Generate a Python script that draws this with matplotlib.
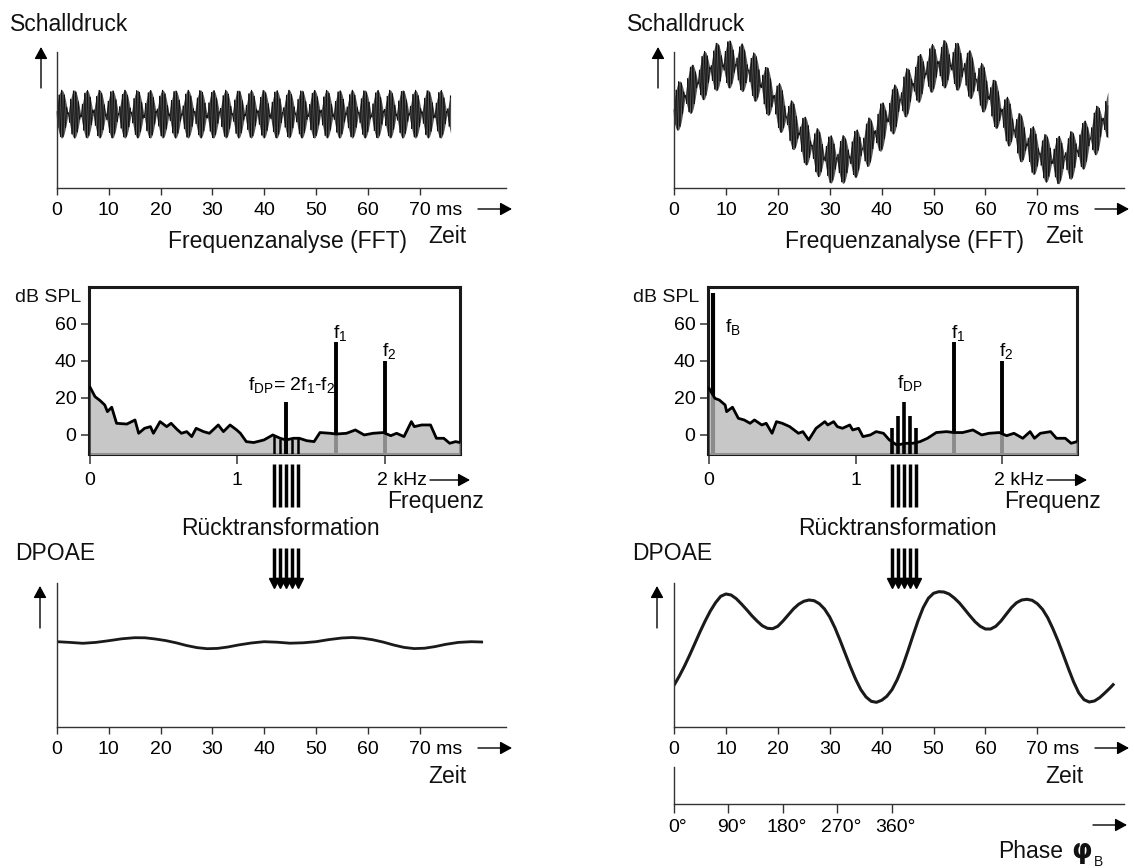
"""DPOAE schematic: primaries in time, FFT spectrum, back-transformed DP.

Left column without, right column with a low-frequency bias tone f_B.
All panels are laid out in pixel coordinates of the 1134x868 target.
"""

import numpy as np
import matplotlib

matplotlib.use("Agg")
import matplotlib.pyplot as plt
import matplotlib.transforms as mtransforms

plt.rcParams["font.family"] = ["Liberation Sans", "DejaVu Sans"]
plt.rcParams["mathtext.fontset"] = "custom"
plt.rcParams["mathtext.rm"] = "Liberation Sans"
plt.rcParams["mathtext.it"] = "Liberation Sans:italic"
plt.rcParams["mathtext.bf"] = "Liberation Sans:bold"

W, H = 1134, 868

# ---- values ----------------------------------------------------------------
TIME_TICKS_MS = [0, 10, 20, 30, 40, 50, 60, 70]
TIME_TICK_LABELS = ["0", "10", "20", "30", "40", "50", "60", "70 ms"]
FREQ_TICKS_KHZ = [0, 1, 2]
FREQ_TICK_LABELS = ["0", "1", "2 kHz"]
LEVEL_TICKS_DB = [0, 20, 40, 60]
PHASE_TICKS_DEG = [0, 90, 180, 270, 360]

# time traces (top row): two beating primaries, right one riding on f_B
STIM_TONES_KHZ = [1.80, 2.21]
STIM_AMPS = [12.5, 11.5]
BURST_PEAK_MS = 0.9
LEFT_TRACE_END_MS = 76.0
RIGHT_TRACE_END_MS = 83.6
FB_PERIOD_MS = 42.0
FB_AMP = 48.0

# spectra (middle row)
NOISE_LEFT_KHZ = [0, 0.034, 0.068, 0.10, 0.118, 0.147, 0.18, 0.25, 0.305, 0.33,
                  0.37, 0.41, 0.43, 0.475, 0.52, 0.55, 0.59, 0.62, 0.656, 0.69,
                  0.72, 0.77, 0.81, 0.87, 0.905, 0.95, 0.995, 1.02, 1.06, 1.11,
                  1.18, 1.24, 1.29, 1.33, 1.38, 1.42, 1.47, 1.52, 1.56, 1.63,
                  1.67, 1.74, 1.80, 1.86, 1.92, 1.99, 2.04, 2.08, 2.13, 2.18,
                  2.20, 2.25, 2.31, 2.35, 2.40, 2.44, 2.48, 2.51]
NOISE_LEFT_DB = [25.8, 20.7, 18.6, 16.2, 12.6, 15.0, 6.3, 5.9, 8.1, 0.9,
                 3.6, 4.5, 0.9, 7.2, 4.5, 6.3, 3.0, 0.9, 1.8, -0.9,
                 3.6, 1.8, 0.9, 5.4, 1.8, 5.4, 2.7, 0.9, -3.6, -4.1,
                 -2.7, 0.0, -1.8, -2.7, -1.8, -1.8, -3.1, -3.6, 1.3, 0.9,
                 0.5, 0.9, 2.7, 0.0, 0.9, 1.3, -0.4, 0.9, -0.9, 7.2,
                 4.5, 5.4, 5.4, -1.8, -1.8, -4.5, -3.6, -4.1]
NOISE_RIGHT_KHZ = [0, 0.04, 0.07, 0.11, 0.12, 0.16, 0.20, 0.24, 0.28, 0.31,
                   0.36, 0.39, 0.43, 0.46, 0.50, 0.55, 0.61, 0.64, 0.68, 0.73,
                   0.79, 0.81, 0.85, 0.875, 0.91, 0.96, 0.98, 1.02, 1.05, 1.10,
                   1.14, 1.19, 1.23, 1.28, 1.35, 1.39, 1.44, 1.49, 1.55, 1.62,
                   1.67, 1.73, 1.80, 1.86, 1.91, 1.98, 2.03, 2.08, 2.14, 2.19,
                   2.22, 2.26, 2.33, 2.37, 2.43, 2.47, 2.51]
NOISE_RIGHT_DB = [25.2, 19.8, 18.9, 16.2, 12.6, 15.0, 9.0, 8.1, 6.3, 8.1,
                  5.4, 6.3, 0.9, 7.2, 6.3, 4.5, 0.9, 1.8, -2.7, 3.6,
                  7.2, 5.4, 7.2, 4.5, 3.6, 5.4, 2.7, 3.6, -0.9, 0.0,
                  1.8, 0.9, -2.7, -5.4, -4.5, -4.5, -3.6, -1.8, 1.3, 1.8,
                  1.3, 1.3, 2.7, 0.0, 0.9, 1.3, -0.4, 0.9, -1.8, 1.8,
                  -1.8, 0.9, 1.8, -1.8, -1.8, -4.5, -3.6]
PRIMARY_KHZ = [1.67, 2.0]
PRIMARY_DB = [50, 40]
PRIMARY_LABELS = [r"f$_{\mathrm{1}}$", r"f$_{\mathrm{2}}$"]
FDP_KHZ = 1.33
FDP_DB = 18
FB_KHZ = 0.03
FB_DB = 77
DP_BAND_KHZ = [1.25, 1.29, 1.33, 1.37, 1.41]
DP_BAND_LEFT_TOP_DB = [-0.5, -2.0, -3.0, -2.0, -1.8]
DP_BAND_RIGHT_DB = [4, 10, 18, 10, 4]

# DPOAE after back-transformation (bottom row), arbitrary amplitude
DPOAE_LEFT_MS = [0, 2.5, 5, 7.5, 10, 12.5, 15, 17, 19, 21, 23, 25, 27, 29, 31,
                 33, 35, 37.5, 40, 42.5, 45, 47.5, 50, 52.5, 55, 57, 59, 61,
                 63, 65, 67, 69, 71, 73, 75, 77.5, 80, 82]
DPOAE_LEFT = [85.3, 84.6, 83.7, 84.6, 86.3, 88.2, 89.3, 89.2, 88.0, 86.4, 84.2,
              81.5, 79.4, 78.3, 78.6, 80.0, 82.0, 84.0, 85.3, 84.8, 83.8, 84.2,
              85.3, 87.4, 89.0, 89.5, 88.8, 87.2, 84.9, 82.0, 79.6, 78.4, 78.8,
              80.4, 82.6, 84.6, 85.3, 85.0]
DPOAE_RIGHT_MS = [0, 1, 2, 3, 4, 5, 6, 7, 8, 9, 10, 11, 12, 13, 14, 15, 16, 17,
                  18, 19, 20, 21, 22, 23, 24, 25, 26, 27, 28, 29, 30, 31, 32,
                  33, 34, 35, 36, 37, 38, 39, 40, 41, 42, 43, 44, 45, 46, 47,
                  48, 49, 50, 51, 52, 53, 54, 55, 56, 57, 58, 59, 60, 61, 62,
                  63, 64, 65, 66, 67, 68, 69, 70, 71, 72, 73, 74, 75, 76, 77,
                  78, 79, 80, 81, 82, 83, 84, 84.6]
DPOAE_RIGHT = [41.7, 50.7, 60.7, 71.7, 83.3, 95.0, 106.0, 116.0, 124.3, 130.7,
               133.0, 132.0, 128.3, 123.0, 117.3, 111.3, 106.0, 101.3, 98.7,
               98.3, 100.7, 106.0, 112.0, 118.0, 122.7, 125.7, 127.0, 126.3,
               123.3, 118.0, 110.0, 99.3, 86.7, 73.3, 60.0, 47.7, 37.3, 30.0,
               25.7, 24.7, 26.7, 30.7, 37.3, 47.3, 60.0, 75.0, 90.7, 106.0,
               119.3, 128.7, 133.7, 135.3, 135.0, 133.0, 129.0, 124.0, 117.7,
               111.3, 105.3, 100.7, 98.0, 98.0, 100.7, 106.0, 112.7, 119.3,
               124.3, 127.0, 127.7, 126.7, 123.3, 117.7, 109.3, 98.3, 86.0,
               72.3, 58.3, 45.0, 34.0, 27.3, 25.0, 26.0, 29.3, 34.0, 39.0, 42.3]

INK = "#1a1a1a"
AXIS = "#333333"
FILL = "#b6b6b6"
BIG = 16.5
SMALL = 14

fig = plt.figure(figsize=(W / 100, H / 100), dpi=100)


def px_axes(left, top, right, bottom):
    ax = fig.add_axes([left / W, 1 - bottom / H, (right - left) / W, (bottom - top) / H])
    ax.patch.set_visible(False)
    return ax


def nudge_last_label(ax, points):
    # keep the number centred on its tick, let the unit hang to the right
    lab = ax.get_xticklabels()[-1]
    lab.set_transform(lab.get_transform()
                      + mtransforms.ScaledTranslation(points / 72, 0, fig.dpi_scale_trans))


def time_axes(ax, ylim):
    ax.set_xlim(0, 86.7)
    ax.set_ylim(*ylim)
    for s in ("top", "right"):
        ax.spines[s].set_visible(False)
    for s in ("left", "bottom"):
        ax.spines[s].set_linewidth(1.0)
        ax.spines[s].set_color(AXIS)
    ax.set_xticks(TIME_TICKS_MS)
    ax.set_xticklabels(TIME_TICK_LABELS)
    ax.set_yticks([])
    ax.tick_params(axis="x", direction="out", length=5, width=1.0, color=AXIS,
                   labelsize=SMALL, pad=5)
    nudge_last_label(ax, 11.3)


def primaries(t):
    return sum(a * np.cos(2 * np.pi * f * (t - BURST_PEAK_MS))
               for f, a in zip(STIM_TONES_KHZ, STIM_AMPS))


def beat_envelope(t):
    a1, a2 = STIM_AMPS
    df = STIM_TONES_KHZ[1] - STIM_TONES_KHZ[0]
    return np.sqrt(a1 ** 2 + a2 ** 2 + 2 * a1 * a2 * np.cos(2 * np.pi * df * (t - BURST_PEAK_MS)))


def draw_trace(ax, t, offset):
    env = beat_envelope(t)
    ax.fill_between(t, offset - env, offset + env, color="#5a5a5a", lw=0, clip_on=False)
    ax.plot(t, offset + primaries(t), color="#111111", lw=0.55, clip_on=False)


def spectrum_axes(ax, noise_f, noise_db):
    ax.set_xlim(-0.007, 2.51)
    ax.set_ylim(-10.3, 80)
    for s in ax.spines.values():
        s.set_linewidth(2.2)
        s.set_color(INK)
    ax.set_xticks(FREQ_TICKS_KHZ)
    ax.set_xticklabels(FREQ_TICK_LABELS)
    ax.set_yticks(LEVEL_TICKS_DB)
    ax.set_yticklabels([str(d) for d in LEVEL_TICKS_DB])
    ax.tick_params(axis="x", direction="out", length=7, width=1.1, color=AXIS,
                   labelsize=SMALL, pad=6)
    ax.tick_params(axis="y", direction="out", length=6, width=1.1, color=AXIS,
                   labelsize=SMALL, pad=3)
    nudge_last_label(ax, 12.4)
    # primaries first, so the translucent noise floor greys their feet
    ax.vlines(PRIMARY_KHZ, -10.3, PRIMARY_DB, color="black", lw=2.8, zorder=2)
    ax.fill_between(noise_f, -11, noise_db, color=FILL, alpha=0.77, lw=0, zorder=3)
    ax.plot(noise_f, noise_db, color="black", lw=2.0, zorder=4,
            solid_joinstyle="round")
    for f, db, lab in zip(PRIMARY_KHZ, PRIMARY_DB, PRIMARY_LABELS):
        ax.text(f - 0.022, db + 2.5, lab, fontsize=SMALL, ha="left", va="baseline")

    # DP band: selected lines below the box and the back-transform arrows
    trans = mtransforms.blended_transform_factory(ax.transData, ax.transAxes)
    ax.vlines(DP_BAND_KHZ, -0.06, -0.317, transform=trans, color="black",
              lw=2.5, clip_on=False)
    ax.vlines(DP_BAND_KHZ, -0.563, -0.76, transform=trans, color="black",
              lw=2.5, clip_on=False)
    ax.plot(DP_BAND_KHZ, [-0.775] * len(DP_BAND_KHZ), "v", ms=7, color="black",
            transform=trans, clip_on=False)


# ---- top row: sound pressure ------------------------------------------------
ax_tl = px_axes(57, 52, 506, 188)
time_axes(ax_tl, (-74, 62))
t_left = np.linspace(0, LEFT_TRACE_END_MS, 20000)
draw_trace(ax_tl, t_left, 0.0)

ax_tr = px_axes(674, 52, 1124, 188)
time_axes(ax_tr, (-76, 60))
t_right = np.linspace(0, RIGHT_TRACE_END_MS, 22000)
draw_trace(ax_tr, t_right, FB_AMP * np.sin(2 * np.pi * t_right / FB_PERIOD_MS))

# ---- middle row: spectra ----------------------------------------------------
ax_sl = px_axes(89, 287, 460, 454)
spectrum_axes(ax_sl, NOISE_LEFT_KHZ, NOISE_LEFT_DB)
ax_sl.vlines([FDP_KHZ], -10.3, [FDP_DB], color="black", lw=2.8, zorder=5)
ax_sl.vlines(DP_BAND_KHZ, -10.3, DP_BAND_LEFT_TOP_DB, color="black", lw=1.8, zorder=5)
ax_sl.text(1.07, 24.3, r"f$_{\mathrm{DP}}$= 2f$_{\mathrm{1}}$-f$_{\mathrm{2}}$",
           fontsize=SMALL, ha="left", va="baseline")

ax_sr = px_axes(708, 287, 1077, 454)
spectrum_axes(ax_sr, NOISE_RIGHT_KHZ, NOISE_RIGHT_DB)
ax_sr.vlines([FB_KHZ], -10.3, [FB_DB], color="black", lw=3.0, zorder=2)
ax_sr.vlines(DP_BAND_KHZ, -10.3, DP_BAND_RIGHT_DB, color="black", lw=2.6, zorder=5)
ax_sr.text(0.11, 55.7, r"f$_{\mathrm{B}}$", fontsize=SMALL, ha="left", va="baseline")
ax_sr.text(1.285, 25.4, r"f$_{\mathrm{DP}}$", fontsize=SMALL, ha="left", va="baseline")

# ---- bottom row: DPOAE ------------------------------------------------------
ax_bl = px_axes(57, 583, 506, 727)
time_axes(ax_bl, (0, 144))
ax_bl.plot(DPOAE_LEFT_MS, DPOAE_LEFT, color=INK, lw=2.0, solid_joinstyle="round")

ax_br = px_axes(674, 583, 1124, 727)
time_axes(ax_br, (0, 144))
ax_br.plot(DPOAE_RIGHT_MS, DPOAE_RIGHT, color=INK, lw=2.2, solid_joinstyle="round")

ax_ph = px_axes(674, 767, 1124, 804)
ax_ph.set_xlim(0, 744.5)
ax_ph.set_ylim(0, 1)
for s in ("top", "right"):
    ax_ph.spines[s].set_visible(False)
for s in ("left", "bottom"):
    ax_ph.spines[s].set_linewidth(1.0)
    ax_ph.spines[s].set_color(AXIS)
ax_ph.set_yticks([])
ax_ph.set_xticks(PHASE_TICKS_DEG)
ax_ph.set_xticklabels([f"{p}°" for p in PHASE_TICKS_DEG])
ax_ph.tick_params(axis="x", direction="out", length=6.5, width=1.0, color=AXIS,
                  labelsize=SMALL, pad=4)
shift = mtransforms.ScaledTranslation(2.8 / 72, 0, fig.dpi_scale_trans)
for lab in ax_ph.get_xticklabels():
    lab.set_transform(lab.get_transform() + shift)

# ---- overlay: captions and arrows in pixel coordinates ----------------------
ov = fig.add_axes([0, 0, 1, 1])
ov.set_xlim(0, W)
ov.set_ylim(H, 0)
ov.axis("off")


def arrow(x0, y0, x1, y1):
    ov.annotate("", xy=(x1, y1), xytext=(x0, y0),
                arrowprops=dict(arrowstyle="-|>,head_length=0.55,head_width=0.3",
                                mutation_scale=13, lw=1.0, color="black",
                                shrinkA=0, shrinkB=0))


def label(x, y, s, size=BIG, ha="left", **kw):
    ov.text(x, y, s, fontsize=size, ha=ha, va="baseline", color="#111111", **kw)


for dx in (0, 617):
    # top row
    label(10 + dx, 31, "Schalldruck")
    arrow(41 + dx, 88, 41 + dx, 47)
    arrow(478 + dx, 209, 512 + dx, 209)
    label(168 + dx, 248, "Frequenzanalyse (FFT)")
    label(428 + dx, 243, "Zeit")
    # middle row
    arrow(430 + dx, 480, 470 + dx, 480)
    label(387 + dx, 508, "Frequenz")
    label(280 + dx, 535, "Rücktransformation", ha="center")
    # bottom row
    label(15 + dx, 560, "DPOAE")
    arrow(40 + dx, 628, 40 + dx, 586)
    arrow(478 + dx, 748, 512 + dx, 748)
    label(428 + dx, 783, "Zeit")

label(15, 302, "dB SPL", SMALL)
label(633, 302, "dB SPL", SMALL)

arrow(1093, 825, 1127, 825)
label(998, 858, "Phase")
label(1071, 858, "φ", 19, family=["DejaVu Sans"], fontweight="bold")
label(1094, 866, "B", 10)

fig.savefig("out.png", dpi=100)
